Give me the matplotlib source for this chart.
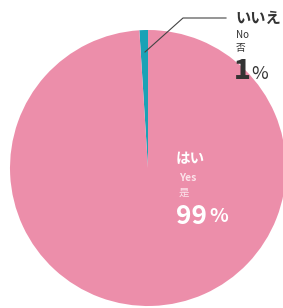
import matplotlib.pyplot as plt

# データ
labels_ja = ["いいえ", "はい"]
labels_en = ["No", "Yes"]
labels_zh = ["否", "是"]
values = [1, 99]
colors = ["#1aa2b6", "#ec8eaa"]

plt.rcParams['font.family'] = ['Noto Sans CJK JP', 'DejaVu Sans']

W, H = 283, 308
fig = plt.figure(figsize=(W / 100, H / 100), dpi=100)
ax = fig.add_axes([0, 0, 1, 1])

cx, cy, r = 148, H - 168, 138
ax.pie(values, colors=colors, startangle=90, counterclock=True,
       center=(cx, cy), radius=r, frame=True,
       wedgeprops=dict(linewidth=0))
ax.set_xlim(0, W)
ax.set_ylim(0, H)
ax.set_aspect('equal')
ax.axis('off')

# 引き出し線
ax.plot([145, 183, 226], [H - 52, H - 18, H - 18], color="#444444", lw=0.8)

# いいえ
ax.text(235, H - 18, labels_ja[0], fontsize=11, fontweight='bold',
        color="#333333", va='center', ha='left')
ax.text(236, H - 35, labels_en[0], fontsize=7, color="#333333", va='center')
ax.text(236, H - 48, labels_zh[0], fontsize=7, color="#333333", va='center')
ax.text(234, H - 71, str(values[0]), fontsize=20, fontweight='black',
        color="#333333", va='center')
ax.text(251, H - 74, "%", fontsize=13, color="#333333", va='center')

# はい
ax.text(176, H - 158, labels_ja[1], fontsize=10.5, fontweight='bold',
        color="white", va='center')
ax.text(179, H - 178, labels_en[1], fontsize=7.5, color="#fbe3ea",
        fontweight='bold', va='center')
ax.text(179, H - 193, labels_zh[1], fontsize=7.5, color="#fbe3ea", va='center')
ax.text(176, H - 216, str(values[1]), fontsize=19, fontweight='bold',
        color="white", va='center')
ax.text(209, H - 217, "%", fontsize=14, fontweight='bold', color="white", va='center')

fig.savefig("out.png", dpi=100)
